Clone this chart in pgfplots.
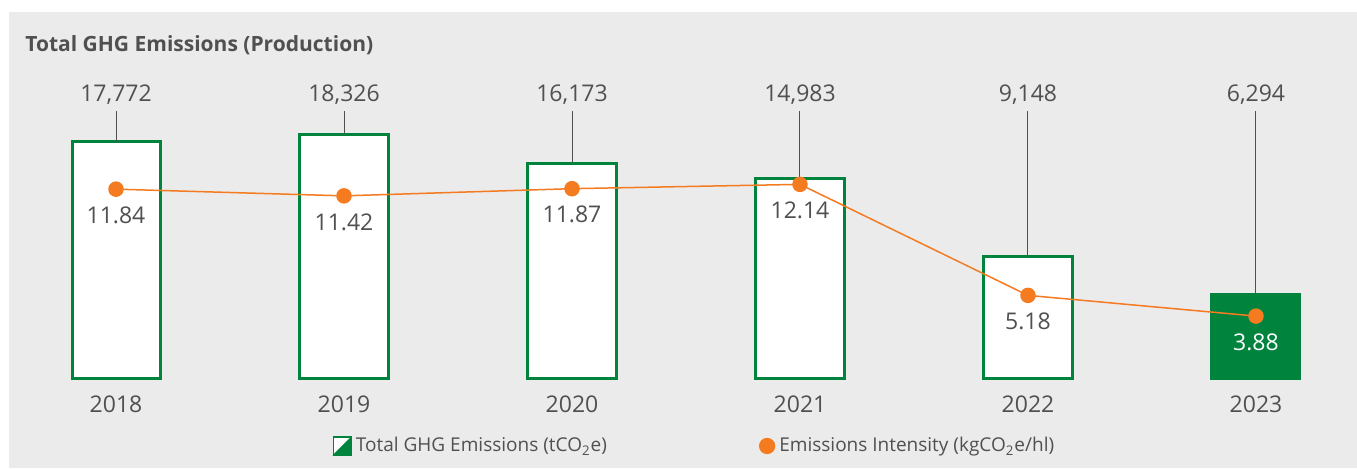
\documentclass[border=0pt]{standalone}
\usepackage{pgfplots}
\pgfplotsset{compat=1.18}
\usepackage{pgfplotstable}
\usepackage{fontspec}
\setmainfont{Open Sans}

\definecolor{bggray}{HTML}{EBEBEB}
\definecolor{ghggreen}{HTML}{00843D}
\definecolor{intorange}{HTML}{F47B20}
\definecolor{txtgray}{HTML}{505050}

% total GHG emissions, tCO2e
\pgfplotstableread{
x y
0 17772
1 18326
2 16173
3 14983
4 9148
5 6294
}\emissions

% emissions intensity, kgCO2e/hl
\pgfplotstableread{
x y
0 11.84
1 11.42
2 11.87
3 12.14
4 5.18
5 3.88
}\intensity

\newcommand{\valfont}{\fontsize{11.5}{13}\selectfont}

\begin{document}
\begin{tikzpicture}
\fill[white] (0,0) rectangle (678.5pt,234pt);
\path[use as bounding box] (0,0) rectangle (678.5pt,234pt);
\fill[bggray] (4.5pt,0) rectangle (678.5pt,228pt);
\node[anchor=west, inner sep=0pt, text=txtgray, font=\bfseries\fontsize{10.5}{12}\selectfont]
  at (12.5pt,211.5pt) {Total GHG Emissions (Production)};

\begin{axis}[
    at={(0pt,0pt)}, anchor=south west,
    scale only axis, width=678.5pt, height=234pt,
    xmin=-0.5088, xmax=5.443,
    ymin=-6700, ymax=28400,
    axis line style={draw=none},
    major tick length=0pt,
    xtick={0,1,2,3,4,5},
    xticklabels={2018,2019,2020,2021,2022,2023},
    ytick=\empty,
    xticklabel style={anchor=center, yshift=32pt, text=txtgray, font=\valfont},
    clip=false,
    bar width=0.386,
    /pgf/number format/assume math mode=true,
]
\addplot[ybar, bar shift=0pt, draw=ghggreen, fill=white, line width=1.5pt,
    restrict x to domain=0:4,
    error bars/y dir=plus, error bars/y explicit, error bars/error mark=none,
    error bars/error bar style={line width=0.5pt, txtgray}]
    table[x=x, y=y, y error expr=20050-\thisrow{y}] {\emissions};
\addplot[ybar, bar shift=0pt, draw=ghggreen, fill=ghggreen, line width=1.5pt,
    restrict x to domain=5:5,
    error bars/y dir=plus, error bars/y explicit, error bars/error mark=none,
    error bars/error bar style={line width=0.5pt, txtgray}]
    table[x=x, y=y, y error expr=20050-\thisrow{y}] {\emissions};
% value labels, all set at one height above the bars
\addplot[draw=none, mark=none, point meta=explicit,
    nodes near coords={\pgfmathprintnumber[fixed,precision=0,1000 sep={,}]{\pgfplotspointmeta}},
    every node near coord/.append style={anchor=center, text=txtgray, font=\valfont}]
    table[x=x, y expr=21300, meta=y] {\emissions};
\end{axis}

\begin{axis}[
    at={(0pt,0pt)}, anchor=south west,
    scale only axis, width=678.5pt, height=234pt,
    xmin=-0.5088, xmax=5.443,
    ymin=-5.643, ymax=23.699,
    axis line style={draw=none},
    major tick length=0pt,
    xtick=\empty, ytick=\empty,
    clip=false,
    /pgf/number format/assume math mode=true,
    legend columns=2,
    legend style={draw=none, fill=none, at={(0.2405,0.047)}, anchor=west,
        font=\fontsize{9.5}{11}\selectfont, text=txtgray},
]
\addlegendimage{legend image code/.code={
    \fill[white] (0pt,-4.5pt) rectangle (9pt,4.5pt);
    \fill[ghggreen] (9pt,-4.5pt) -- (9pt,4.5pt) -- (0pt,-4.5pt) -- cycle;
    \draw[ghggreen, line width=0.6pt] (0pt,-4.5pt) rectangle (9pt,4.5pt);}}
\addlegendentry{Total GHG Emissions (tCO\textsubscript{2}e)\hspace{74pt}\mbox{}}

\addplot[intorange, line width=0.75pt, mark=*, mark size=3.5pt,
    mark options={fill=intorange, draw=intorange},
    visualization depends on={rawx \as \rawx},
    nodes near coords={\ifdim\rawx pt>4.5pt \color{white}\fi
        \pgfmathprintnumber[fixed,precision=2,zerofill]{\pgfplotspointmeta}},
    every node near coord/.append style={anchor=center, text=txtgray, font=\valfont, yshift=-13pt},
    legend image code/.code={\fill[intorange] (4.5pt,0pt) circle (3.7pt);}]
    table[x=x, y=y] {\intensity};
\addlegendentry{Emissions Intensity (kgCO\textsubscript{2}e/hl)}
\end{axis}
\end{tikzpicture}
\end{document}
